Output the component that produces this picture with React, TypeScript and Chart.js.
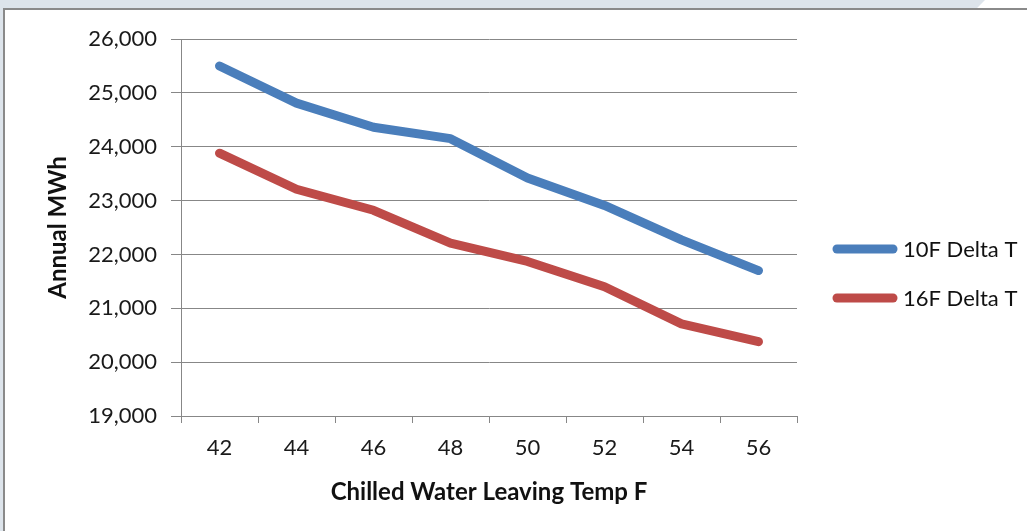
import React, { useEffect, useRef } from "react";
import { Chart, registerables } from "chart.js";

Chart.register(...registerables);

// ---- data ----
const categories: string[] = ["42", "44", "46", "48", "50", "52", "54", "56"];
const series10F: number[] = [25500, 24810, 24360, 24150, 23420, 22910, 22270, 21700];
const series16F: number[] = [23880, 23210, 22820, 22210, 21870, 21400, 20710, 20380];
const seriesNames: string[] = ["10F Delta T", "16F Delta T"];
const yMin = 19000;
const yMax = 26000;
const yStep = 1000;
const xTitle = "Chilled Water Leaving Temp F";
const yTitle = "Annual MWh";

const FONT = "Lato, 'Open Sans', sans-serif";
const GRID = "#878787";

const legendPlugin = {
  id: "sideLegend",
  afterDraw(chart: any) {
    const ctx = chart.ctx as CanvasRenderingContext2D;
    const area = chart.chartArea;
    const x0 = area.right + 36;
    const lineLen = 64;
    const gap = 49;
    const n = chart.data.datasets.length;
    const cy = 273.5;
    ctx.save();
    chart.data.datasets.forEach((ds: any, i: number) => {
      const y = cy + (i - (n - 1) / 2) * gap;
      ctx.strokeStyle = ds.borderColor;
      ctx.lineWidth = 9;
      ctx.lineCap = "round";
      ctx.beginPath();
      ctx.moveTo(x0 + 4, y);
      ctx.lineTo(x0 + lineLen - 4, y);
      ctx.stroke();
      ctx.fillStyle = "#111";
      ctx.font = `22px ${FONT}`;
      ctx.textAlign = "left";
      ctx.textBaseline = "middle";
      ctx.fillText(ds.label, x0 + lineLen + 6, y + 1);
    });
    ctx.restore();
  },
};

export default function App() {
  const ref = useRef<HTMLCanvasElement | null>(null);

  useEffect(() => {
    if (!ref.current) return;
    const chart = new Chart(ref.current, {
      type: "line",
      data: {
        labels: categories,
        datasets: [
          {
            label: seriesNames[0],
            data: series10F,
            borderColor: "#4a7ebb",
            borderWidth: 9,
            borderCapStyle: "round",
            borderJoinStyle: "round",
            pointRadius: 0,
            tension: 0,
            fill: false,
          },
          {
            label: seriesNames[1],
            data: series16F,
            borderColor: "#be4b48",
            borderWidth: 9,
            borderCapStyle: "round",
            borderJoinStyle: "round",
            pointRadius: 0,
            tension: 0,
            fill: false,
          },
        ],
      },
      options: {
        animation: false,
        responsive: true,
        maintainAspectRatio: false,
        layout: { padding: { top: 39, right: 230, bottom: 0, left: 0 } },
        plugins: {
          legend: { display: false },
          tooltip: { enabled: false },
        },
        scales: {
          x: {
            type: "category",
            offset: true,
            afterFit: (s: any) => {
              s.height = 115;
            },
            grid: {
              offset: true,
              drawOnChartArea: false,
              drawTicks: true,
              tickLength: 7,
              color: GRID,
            },
            border: { color: GRID, width: 1 },
            ticks: {
              color: "#1a1a1a",
              font: { family: FONT, size: 22 },
              padding: 12,
              maxRotation: 0,
            },
            title: {
              display: true,
              text: xTitle,
              color: "#111",
              font: { family: FONT, size: 24, weight: "bold" },
              padding: { top: 0, bottom: 24.5 },
            },
          },
          y: {
            min: yMin,
            max: yMax,
            afterFit: (s: any) => {
              s.width = 181;
            },
            grid: {
              color: GRID,
              drawTicks: true,
              tickLength: 10,
            },
            border: { color: GRID, width: 1 },
            ticks: {
              stepSize: yStep,
              color: "#1a1a1a",
              font: { family: FONT, size: 22 },
              padding: 14,
              callback: (v: any) => Number(v).toLocaleString("en-US"),
            },
            title: {
              display: true,
              text: yTitle,
              color: "#111",
              font: { family: FONT, size: 24, weight: "bold" },
              padding: { top: 43.5, bottom: 0 },
            },
          },
        },
      },
      plugins: [legendPlugin],
    });
    return () => chart.destroy();
  }, []);

  return (
    <div
      style={{
        position: "absolute",
        left: 0,
        top: 0,
        width: 1027,
        height: 531,
        overflow: "hidden",
        background: "#ffffff",
      }}
    >
      <div
        style={{
          position: "absolute",
          left: 0,
          top: 0,
          width: 985,
          height: 10,
          background: "#dde4eb",
          clipPath: "polygon(0 0, 100% 0, 99% 100%, 0 100%)",
        }}
      />
      <div
        style={{
          position: "absolute",
          left: 0,
          top: 0,
          width: 4,
          height: 531,
          background: "#dde4eb",
        }}
      />
      <div
        style={{
          position: "absolute",
          left: 3,
          top: 8,
          width: 1100,
          height: 600,
          borderLeft: "2px solid #8a8a8a",
          borderTop: "2px solid #8a8a8a",
          background: "#ffffff",
        }}
      />
      <div style={{ position: "absolute", left: 0, top: 0, width: 1027, height: 531 }}>
        <canvas ref={ref} />
      </div>
    </div>
  );
}
